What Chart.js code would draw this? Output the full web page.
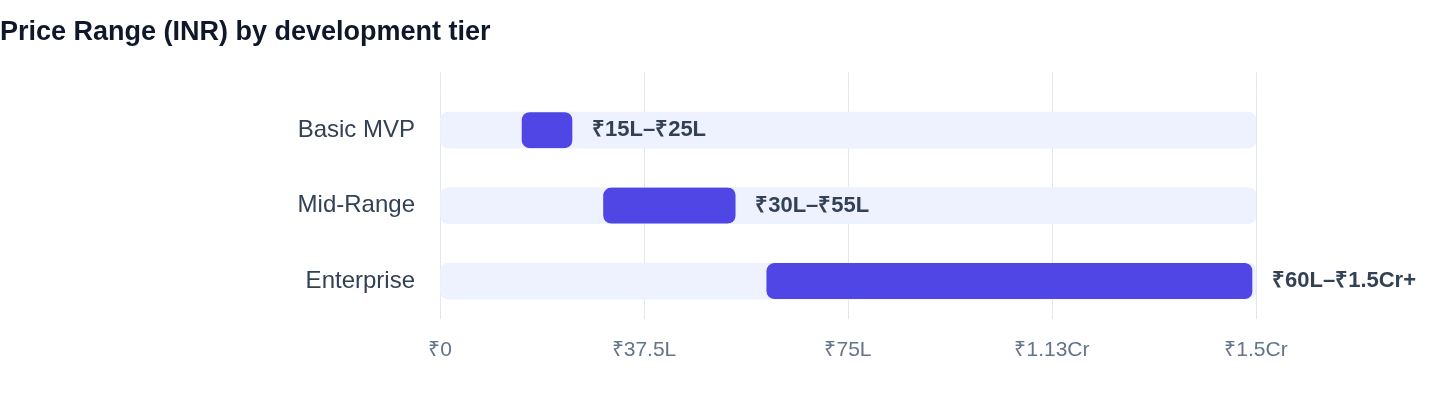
<!DOCTYPE html>
<html>
<head>
<meta charset="utf-8">
<script src="https://cdn.jsdelivr.net/npm/chart.js@4"></script>
<style>
  html, body { margin: 0; padding: 0; background: #fff; }
  #wrap { width: 1440px; height: 408px; }
</style>
</head>
<body>
<div id="wrap"><canvas id="chart"></canvas></div>
<script>
const tiers = ['Basic MVP', 'Mid-Range', 'Enterprise'];
const priceMin = [15, 30, 60];     // lakh INR
const priceMax = [25, 55, 150];
const rangeLabels = ['₹15L–₹25L', '₹30L–₹55L', '₹60L–₹1.5Cr+'];
const scaleMax = 150;
const tickLabels = ['₹0', '₹37.5L', '₹75L', '₹1.13Cr', '₹1.5Cr'];

const font = 'Helvetica, Arial, "Liberation Sans", sans-serif';
const gridColor = '#E2E8F0';

// range text to the right of each bar
const rangeText = {
    id: 'rangeText',
    afterDatasetsDraw(chart) {
        const ctx = chart.ctx;
        const meta = chart.getDatasetMeta(0);
        ctx.save();
        ctx.font = 'bold 22px ' + font;
        ctx.fillStyle = '#334155';
        ctx.textAlign = 'left';
        ctx.textBaseline = 'middle';
        meta.data.forEach((bar, i) => {
            ctx.fillText(rangeLabels[i], bar.x + 16, bar.y);
        });
        ctx.restore();
    }
};

new Chart(document.getElementById('chart'), {
    type: 'bar',
    data: {
        labels: tiers,
        datasets: [{
            data: tiers.map((t, i) => [priceMin[i], priceMax[i]]),
            backgroundColor: '#4F46E5',
            borderColor: 'rgba(0,0,0,0)',
            borderWidth: {top: 0, right: 4, bottom: 0, left: 0},
            borderSkipped: false,
            borderRadius: {topLeft: 8, bottomLeft: 8, topRight: 12, bottomRight: 12},
            barThickness: 36,
            grouped: false,
            order: 0,
        }, {
            data: tiers.map(() => [0, scaleMax]),
            backgroundColor: '#EEF2FF',
            borderSkipped: false,
            borderRadius: 8,
            barThickness: 36,
            grouped: false,
            order: 1,
        }]
    },
    options: {
        indexAxis: 'y',
        responsive: true,
        maintainAspectRatio: false,
        animation: false,
        layout: {
            padding: {left: 0, right: 184, top: 0, bottom: 26}
        },
        scales: {
            x: {
                min: 0,
                max: scaleMax,
                border: {display: false},
                grid: {color: gridColor, drawTicks: false},
                ticks: {
                    stepSize: 37.5,
                    padding: 19,
                    color: '#64748B',
                    font: {family: font, size: 21},
                    callback: (v, i) => tickLabels[i],
                }
            },
            xTop: {
                type: 'linear',
                position: 'top',
                min: 0,
                max: scaleMax,
                border: {display: false},
                grid: {color: gridColor, drawOnChartArea: false, drawTicks: true, tickLength: 20},
                ticks: {stepSize: 37.5, display: false},
            },
            y: {
                border: {display: false},
                grid: {display: false, drawTicks: false},
                ticks: {
                    padding: 25,
                    color: '#334155',
                    font: {family: font, size: 24},
                },
                afterFit(scale) { scale.width = 440; }
            }
        },
        plugins: {
            legend: {display: false},
            tooltip: {enabled: false},
            title: {
                display: true,
                text: 'Price Range (INR) by development tier',
                align: 'start',
                color: '#0F172A',
                font: {family: font, size: 27, weight: 'bold'},
                padding: {top: 16, bottom: 24},
            }
        }
    },
    plugins: [rangeText]
});
</script>
</body>
</html>
